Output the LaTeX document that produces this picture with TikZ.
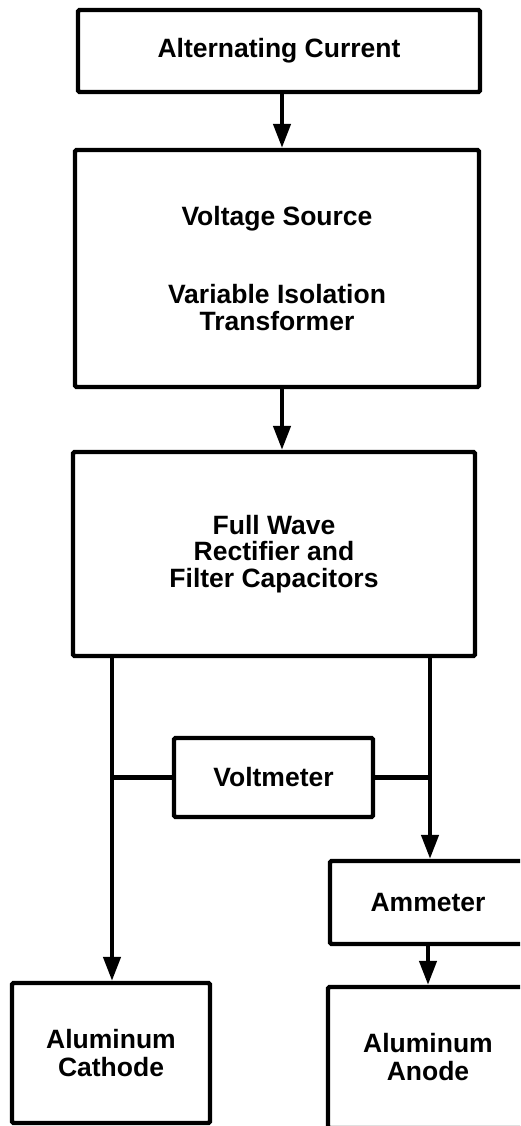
\documentclass[tikz,border=0pt]{standalone}
\usepackage{fontspec}
\setmainfont{Liberation Sans}
\usetikzlibrary{arrows.meta}
\begin{document}
\begin{tikzpicture}[x=1pt,y=-1pt,
  blk/.style={draw, line width=4.3pt, rounded corners=1.5pt, align=center,
    inner sep=0pt, font=\fontsize{26.5}{26.5}\selectfont\bfseries},
  arr/.style={line width=4.3pt, -{Triangle[length=24pt,width=17pt]}},
  wire/.style={line width=4.3pt}]
\useasboundingbox (0,0) rectangle (520,1126);
\clip (0,0) rectangle (520,1126);
\node[blk, minimum width=402pt, minimum height=82pt] (ac) at (279,51) {Alternating Current};
\node[blk, minimum width=404pt, minimum height=237pt] (vs) at (277,268.5)
  {Voltage Source\\[52pt]Variable Isolation\\Transformer};
\node[blk, minimum width=402pt, minimum height=204pt] (fw) at (274,554)
  {Full Wave\\Rectifier and\\Filter Capacitors};
\node[blk, minimum width=199pt, minimum height=79pt] (vm) at (273.5,777.5) {Voltmeter};
\node[blk, minimum width=196pt, minimum height=83pt] (am) at (428,902.5) {Ammeter};
\node[blk, minimum width=198pt, minimum height=140pt, font=\fontsize{26.5}{28}\selectfont\bfseries] (ca) at (111,1053)
  {Aluminum\\Cathode};
\node[blk, minimum width=200pt, minimum height=141pt, font=\fontsize{26.5}{28}\selectfont\bfseries] (an) at (428,1057.5)
  {Aluminum\\Anode};
\coordinate (xm) at (282,0);
\coordinate (xl) at (112,0);
\coordinate (xr) at (430,0);
\coordinate (xa) at (428,0);
\draw[arr] (ac.south -| xm) -- (vs.north -| xm);
\draw[arr] (vs.south -| xm) -- (fw.north -| xm);
\draw[arr] (fw.south -| xl) -- (ca.north -| xl);
\draw[arr] (fw.south -| xr) -- (am.north -| xr);
\draw[arr] (am.south -| xa) -- (an.north -| xa);
\draw[wire] (vm.west) -- (vm.west -| xl);
\draw[wire] (vm.east) -- (vm.east -| xr);
\end{tikzpicture}
\end{document}
